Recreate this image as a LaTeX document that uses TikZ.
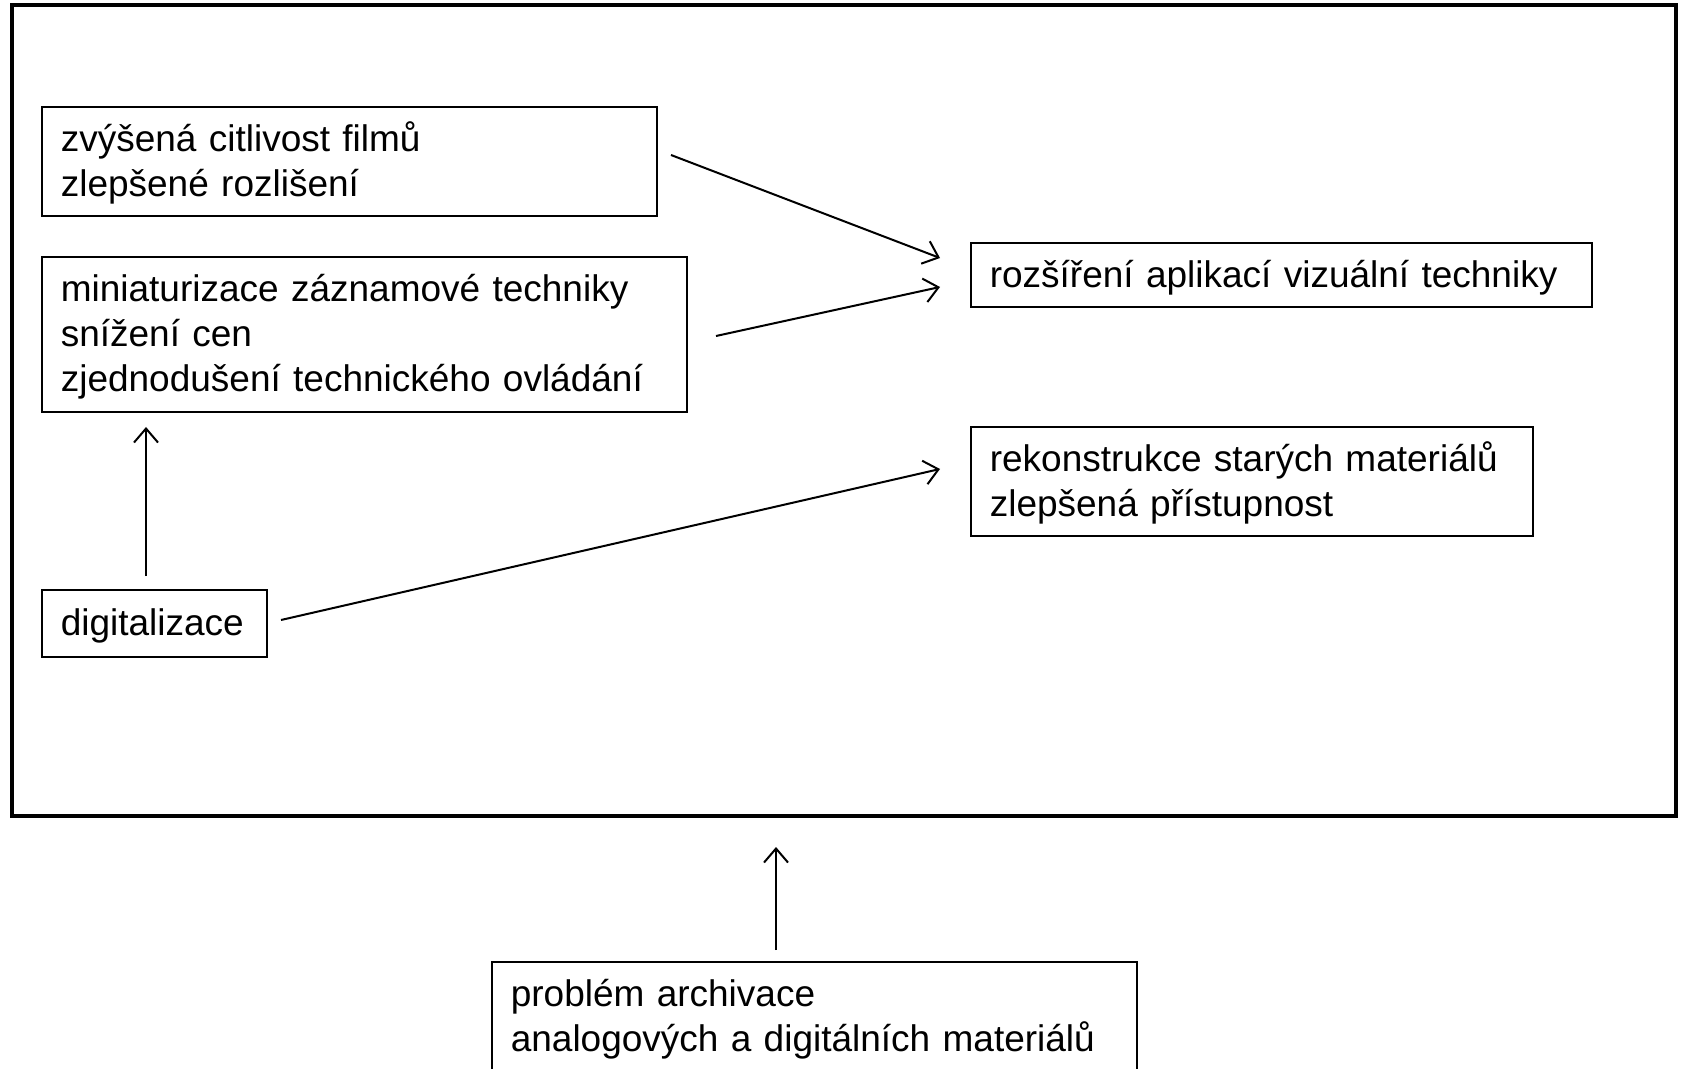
\documentclass[tikz,border=0pt]{standalone}
\usepackage{fontspec}
\setmainfont{Liberation Sans}
\usetikzlibrary{arrows.meta}
\newcommand{\boxfont}{\fontsize{18.5pt}{22.5pt}\selectfont}
\newcommand{\ls}{\rule[-5pt]{0pt}{22.5pt}}
\tikzset{
  txtbox/.style = {draw, line width = 0.8pt, anchor = north west, inner xsep = 9.5pt,
    inner ysep = 0pt, align = left, font = \boxfont},
  link/.style = {line width = 1pt, -{Straight Barb[length = 7pt, width = 12pt]}}
}
\begin{document}
\begin{tikzpicture}[x = 0.5pt, y = -0.5pt]
      \useasboundingbox (0, 0) rectangle (1681, 1069);
      \draw [line width = 2pt] (12, 5) rectangle (1676, 816);
      % boxes
      \node [txtbox, text width = 288.5pt, minimum height = 54.5pt] (citlivost) at (41, 106)
        {\ls zvýšená citlivost filmů\\\ls zlepšené rozlišení};
      \node [txtbox, text width = 303.5pt, minimum height = 77.5pt] (miniatur) at (41, 256)
        {\ls miniaturizace záznamové techniky\\\ls snížení cen\\\ls zjednodušení technického ovládání};
      \node [txtbox, text width = 93.5pt, minimum height = 33.5pt] (digital) at (41, 589)
        {\ls digitalizace};
      \node [txtbox, text width = 291.5pt, minimum height = 32pt] (aplikace) at (970, 242)
        {\ls rozšíření aplikací vizuální techniky};
      \node [txtbox, text width = 262pt, minimum height = 54.5pt] (rekonstr) at (970, 426)
        {\ls rekonstrukce starých materiálů\\\ls zlepšená přístupnost};
      \node [txtbox, text width = 303.5pt, minimum height = 54.5pt] (archiv) at (491, 961)
        {\ls problém archivace\\\ls analogových a digitálních materiálů};
      % arrow ends
      \coordinate (c1) at (671, 155);
      \coordinate (a1) at (940, 258);
      \coordinate (c2) at (716, 336);
      \coordinate (a2) at (940, 287);
      \coordinate (d1) at (281, 620);
      \coordinate (r1) at (940, 469);
      \coordinate (d2) at (146, 576);
      \coordinate (m1) at (146, 427);
      \coordinate (p1) at (776, 950);
      \coordinate (f1) at (776, 847);
      \draw [link] (c1) -- (a1);
      \draw [link] (c2) -- (a2);
      \draw [link] (d1) -- (r1);
      \draw [link] (d2) -- (m1);
      \draw [link] (p1) -- (f1);
\end{tikzpicture}
\end{document}
